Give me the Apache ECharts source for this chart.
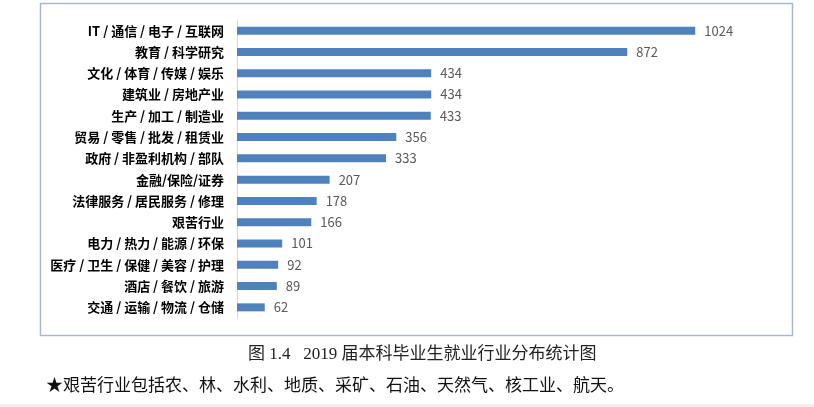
<!DOCTYPE html>
<html>
<head>
<meta charset="utf-8">
<script src="https://cdn.jsdelivr.net/npm/echarts@6/dist/echarts.min.js"></script>
<style>
html,body{margin:0;padding:0;background:#fff;}
#chart{width:814px;height:407px;}
</style>
</head>
<body>
<div id="chart"></div>
<script>
const categories = [
  "IT / 通信 / 电子 / 互联网",
  "教育 / 科学研究",
  "文化 / 体育 / 传媒 / 娱乐",
  "建筑业 / 房地产业",
  "生产 / 加工 / 制造业",
  "贸易 / 零售 / 批发 / 租赁业",
  "政府 / 非盈利机构 / 部队",
  "金融/保险/证券",
  "法律服务 / 居民服务 / 修理",
  "艰苦行业",
  "电力 / 热力 / 能源 / 环保",
  "医疗 / 卫生 / 保健 / 美容 / 护理",
  "酒店 / 餐饮 / 旅游",
  "交通 / 运输 / 物流 / 仓储"
];
const values = [1024, 872, 434, 434, 433, 356, 333, 207, 178, 166, 101, 92, 89, 62];
const captionText = "图 1.4   2019 届本科毕业生就业行业分布统计图";
const noteText = "★艰苦行业包括农、林、水利、地质、采矿、石油、天然气、核工业、航天。";

const chart = echarts.init(document.getElementById('chart'), null, {renderer: 'canvas'});
chart.setOption({
  backgroundColor: '#ffffff',
  animation: false,
  grid: {left: 237, top: 20, width: 537, height: 298, containLabel: false},
  xAxis: {
    type: 'value', min: 0, max: 1200, show: false,
    splitLine: {show: false}
  },
  yAxis: {
    type: 'category', data: categories, inverse: true,
    axisLine: {show: true, lineStyle: {color: '#d9d9d9', width: 1}},
    axisTick: {show: false},
    axisLabel: {
      margin: 13, color: '#000000', fontSize: 13, fontWeight: 'bold',
      fontFamily: '"Noto Sans CJK SC", sans-serif'
    }
  },
  series: [{
    type: 'bar', data: values, barWidth: 8,
    itemStyle: {color: '#4f81bd'},
    label: {
      show: true, position: 'right', distance: 9,
      color: '#595959', fontSize: 13,
      fontFamily: '"Noto Sans CJK SC", sans-serif'
    }
  }],
  graphic: [
    {
      type: 'rect', silent: true,
      shape: {x: 40.5, y: 3.5, width: 752, height: 332},
      style: {fill: 'none', stroke: '#a6b7d4', lineWidth: 1.5}
    },
    {
      type: 'text', left: 248, top: 346,
      style: {
        text: captionText, fill: '#222222', fontSize: 17,
        fontFamily: '"Liberation Serif", "Noto Sans CJK SC", serif'
      }
    },
    {
      type: 'text', left: 46, top: 378,
      style: {
        text: noteText, fill: '#111111', fontSize: 17,
        fontFamily: '"Liberation Serif", "Noto Sans CJK SC", serif'
      }
    },
    {
      type: 'rect', silent: true,
      shape: {x: 0, y: 404, width: 814, height: 3},
      style: {fill: '#eeeeee'}
    }
  ]
});
</script>
</body>
</html>
